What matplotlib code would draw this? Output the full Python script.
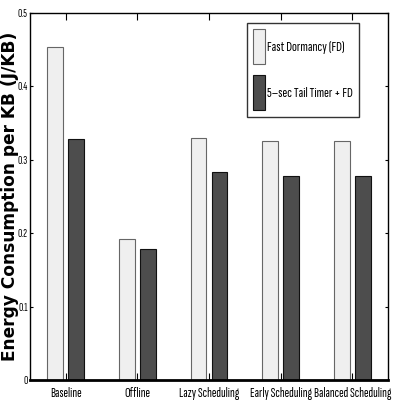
import matplotlib
matplotlib.use("Agg")
import matplotlib.pyplot as plt
from matplotlib import font_manager as fm
import numpy as np

categories = ["Baseline", "Offline", "Lazy Scheduling", "Early Scheduling", "Balanced Scheduling"]
fd_values = [0.453, 0.192, 0.330, 0.326, 0.326]
tail_values = [0.328, 0.178, 0.283, 0.278, 0.278]
series_labels = ["Fast Dormancy (FD)", "5\u2013sec Tail Timer + FD"]
yticks = [0, 0.1, 0.2, 0.3, 0.4, 0.5]
ytick_labels = ["0", "0.1", "0.2", "0.3", "0.4", "0.5"]

_avail = {f.name for f in fm.fontManager.ttflist}
def pick(cands):
    return [c for c in cands if c in _avail][:1] + ["DejaVu Sans"]

narrow = pick(["Sofia Sans Extra Condensed", "Roboto Condensed", "Liberation Sans Narrow"])

fig = plt.figure(figsize=(3.94, 4.01), dpi=100)
ax = fig.add_axes([30/394, 21/401, 358/394, 367/401])

x = np.arange(1, len(categories) + 1)
w = 0.22
off = 0.147
ax.bar(x - off, fd_values, w, color="#efefef", edgecolor="#666666", linewidth=0.8,
       label=series_labels[0], zorder=2)
ax.bar(x + off, tail_values, w, color="#4d4d4d", edgecolor="#111111", linewidth=0.8,
       label=series_labels[1], zorder=2)

ax.set_xlim(0.5, 5.5)
ax.set_ylim(0, 0.5)
ax.set_xticks(x)
ax.set_xticklabels(categories, fontfamily=narrow, fontweight="semibold", fontsize=10)
ax.set_yticks(yticks)
ax.set_yticklabels(ytick_labels, fontfamily=narrow, fontsize=8.5)
ax.tick_params(axis="x", direction="in", top=True, bottom=True, length=5, width=0.8, pad=5)
ax.tick_params(axis="y", direction="in", left=True, right=True, length=2.5, width=0.8, pad=1.5)
for s in ax.spines.values():
    s.set_linewidth(1.0)
ax.spines["bottom"].set_linewidth(2.0)

ylab = ax.set_ylabel("Energy Consumption per KB (J/KB)", fontsize=10, fontweight="bold",
                     family="DejaVu Sans", va="center")
ax.yaxis.set_label_coords(-0.056, 0.5)

leg = ax.legend(loc="upper right", bbox_to_anchor=(0.919, 0.973), borderaxespad=0,
                frameon=True, fancybox=False, edgecolor="black",
                handlelength=0.82, handleheight=3.3, handletextpad=0.1,
                labelspacing=0.75, borderpad=0.45,
                prop={"family": narrow, "weight": "bold", "size": 10.5})
leg.get_frame().set_linewidth(1.0)

fig.canvas.draw()
r = fig.canvas.get_renderer()
bb = ylab.get_window_extent(r)
ylab.set_fontsize(10 * 330.0 / bb.height)

fig.savefig("out.png", dpi=100)
